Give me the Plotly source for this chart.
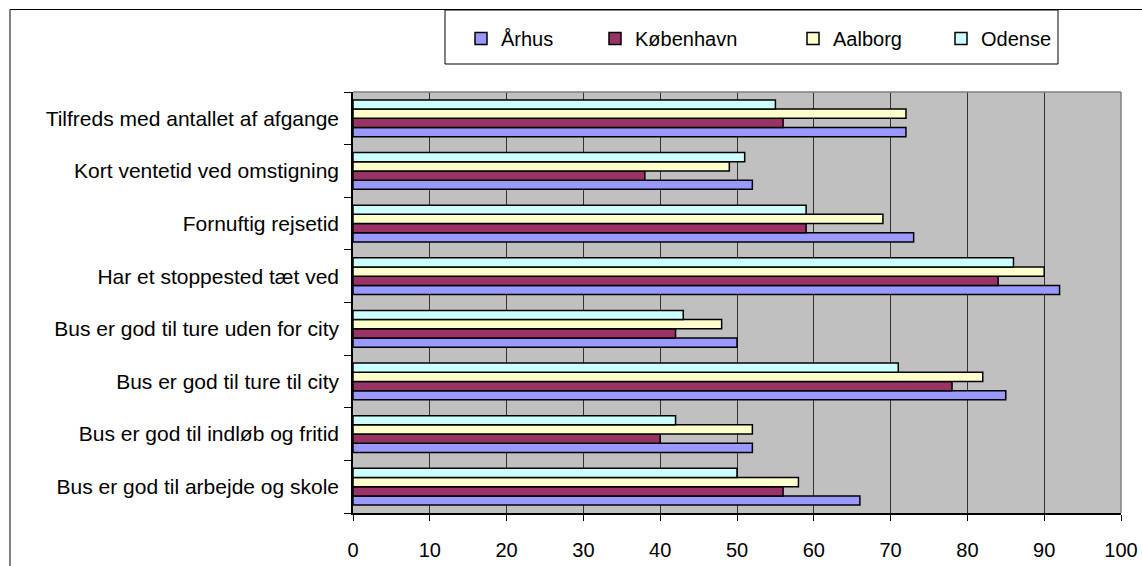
import plotly.graph_objects as go

categories = [
    "Bus er god til arbejde og skole",
    "Bus er god til indløb og fritid",
    "Bus er god til ture til city",
    "Bus er god til ture uden for city",
    "Har et stoppested tæt ved",
    "Fornuftig rejsetid",
    "Kort ventetid ved omstigning",
    "Tilfreds med antallet af afgange",
]

aarhus = [66, 52, 85, 50, 92, 73, 52, 72]
koebenhavn = [56, 40, 78, 42, 84, 59, 38, 56]
aalborg = [58, 52, 82, 48, 90, 69, 49, 72]
odense = [50, 42, 71, 43, 86, 59, 51, 55]

series_names = ["Århus", "København", "Aalborg", "Odense"]
series_values = [aarhus, koebenhavn, aalborg, odense]
series_colors = ["#9999FF", "#993366", "#FFFFCC", "#CCFFFF"]

x_ticks = [0, 10, 20, 30, 40, 50, 60, 70, 80, 90, 100]

W, H = 1142, 566
L, R, T, B = 353, 21, 92, 53
PW, PH = W - L - R, H - T - B


def px_x(p):
    return (p - L) / PW


def px_y(p):
    return (H - B - p) / PH


legend_ids = ["legend", "legend2", "legend3", "legend4"]
legend_px = [461, 595, 793, 941]

fig = go.Figure()
for name, vals, col, lid in zip(series_names, series_values, series_colors, legend_ids):
    fig.add_trace(go.Bar(
        y=categories, x=vals, name=name, orientation="h",
        marker=dict(color=col, line=dict(color="#000000", width=1.5)),
        legend=lid,
    ))

font_family = "Arial, Liberation Sans, sans-serif"

legend_layout = {}
for lid, lx in zip(legend_ids, legend_px):
    legend_layout[lid] = dict(
        orientation="h",
        x=px_x(lx), xanchor="left",
        y=px_y(19), yanchor="top",
        bgcolor="rgba(0,0,0,0)",
        borderwidth=0,
        font=dict(size=20, family=font_family, color="#000000"),
    )

fig.update_layout(
    width=W, height=H,
    margin=dict(l=L, r=R, t=T, b=B, pad=0, autoexpand=False),
    paper_bgcolor="#FFFFFF",
    plot_bgcolor="#C0C0C0",
    barmode="group",
    bargap=0.3,
    bargroupgap=0,
    font=dict(family=font_family, size=20, color="#000000"),
    showlegend=True,
    xaxis=dict(
        range=[0, 100],
        tickvals=x_ticks,
        ticktext=[str(v) for v in x_ticks],
        showgrid=True, gridcolor="#333333", gridwidth=1,
        zeroline=False,
        showline=True, linecolor="#000000", linewidth=1.5,
        ticks="outside", ticklen=6, tickcolor="#000000", tickwidth=1,
        ticklabelstandoff=12,
        tickfont=dict(size=20),
        mirror=False,
        fixedrange=True,
    ),
    yaxis=dict(
        categoryorder="array", categoryarray=categories,
        range=[-0.5, len(categories) - 0.5],
        showgrid=False, zeroline=False,
        showline=True, linecolor="#000000", linewidth=1.5,
        ticks="outside", ticklen=7, tickcolor="#000000", tickwidth=1,
        tickson="boundaries",
        ticklabelstandoff=8,
        tickfont=dict(size=21),
        fixedrange=True,
    ),
    **legend_layout,
)

# plot area border (top/right in gray)
fig.add_shape(type="line", xref="paper", yref="paper", x0=0, x1=1, y0=1, y1=1,
              line=dict(color="#808080", width=1.5), layer="above")
fig.add_shape(type="line", xref="paper", yref="paper", x0=1, x1=1, y0=0, y1=1,
              line=dict(color="#808080", width=1.5), layer="above")

# legend box
fig.add_shape(type="rect", xref="paper", yref="paper",
              x0=px_x(445), x1=px_x(1058), y0=px_y(10), y1=px_y(64),
              line=dict(color="#000000", width=1), fillcolor="rgba(0,0,0,0)",
              layer="above")

# outer chart border
fig.add_shape(type="rect", xref="paper", yref="paper",
              x0=px_x(10), x1=px_x(1160), y0=px_y(590), y1=px_y(9.5),
              line=dict(color="#000000", width=1), fillcolor="rgba(0,0,0,0)",
              layer="below")

fig.write_html(
    "out.html",
    config={"displayModeBar": False},
    post_script="document.body.style.margin='0';document.body.style.overflow='hidden';",
)
